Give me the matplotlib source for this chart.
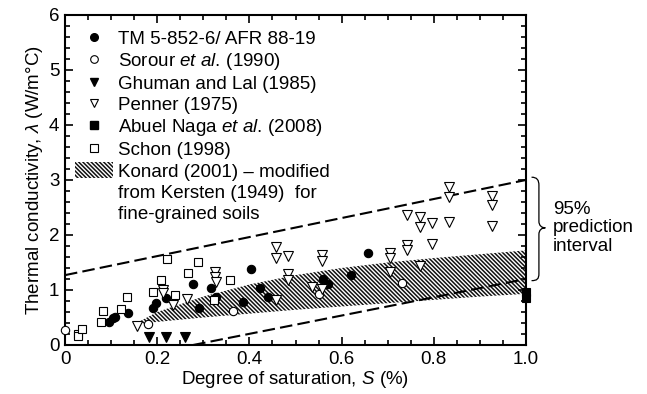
import matplotlib
matplotlib.use('Agg')
import matplotlib.pyplot as plt
from matplotlib.patches import Patch, PathPatch
from matplotlib.path import Path
from matplotlib.lines import Line2D
from matplotlib.ticker import MultipleLocator

plt.rcParams['font.family'] = ['Liberation Sans', 'DejaVu Sans']
plt.rcParams['mathtext.fontset'] = 'custom'
plt.rcParams['mathtext.rm'] = 'Liberation Sans'
plt.rcParams['mathtext.it'] = 'Liberation Sans:italic'
plt.rcParams['hatch.linewidth'] = 1.1
plt.rcParams['hatch.color'] = '#111111'

FS = 13.5

# TM 5-852-6 / AFR 88-19 (filled circles)
tm_s = [0.096, 0.105, 0.108, 0.137, 0.19, 0.197, 0.219, 0.278, 0.291, 0.317, 0.328,
        0.387, 0.403, 0.423, 0.441, 0.56, 0.571, 0.62, 0.657]
tm_k = [0.41, 0.49, 0.51, 0.59, 0.68, 0.76, 0.85, 1.11, 0.68, 1.03, 0.87,
        0.78, 1.38, 1.03, 0.87, 1.2, 1.11, 1.27, 1.67]

# Sorour et al. (1990) (open circles)
sor_s = [0.0, 0.179, 0.364, 0.55, 0.73]
sor_k = [0.27, 0.38, 0.62, 0.93, 1.13]

# Ghuman and Lal (1985) (filled triangles)
gh_s = [0.183, 0.218, 0.26]
gh_k = [0.15, 0.15, 0.15]

# Penner (1975) (open triangles)
pen_s = [0.157, 0.212, 0.212, 0.234, 0.265, 0.325, 0.325, 0.328, 0.458, 0.458,
         0.484, 0.484, 0.484, 0.458, 0.536, 0.558, 0.558, 0.558,
         0.704, 0.704, 0.704, 0.741, 0.741, 0.741, 0.77, 0.77, 0.77,
         0.797, 0.797, 0.833, 0.833, 0.833, 0.926, 0.926, 0.926]
pen_k = [0.35, 1.0, 0.94, 0.72, 0.84, 1.33, 1.23, 1.14, 1.79, 1.59,
         1.62, 1.29, 1.18, 0.82, 1.06, 1.64, 1.52, 1.01,
         1.68, 1.59, 1.32, 2.37, 1.82, 1.73, 2.32, 2.15, 1.44,
         2.21, 1.84, 2.87, 2.69, 2.23, 2.71, 2.54, 2.17]

# Abuel Naga et al. (2008) (filled squares)
ab_s = [1.0, 1.0]
ab_k = [0.86, 0.97]

# Schon (1998) (open squares)
sch_s = [0.029, 0.029, 0.036, 0.077, 0.082, 0.121, 0.134, 0.19, 0.208, 0.222,
         0.239, 0.267, 0.288, 0.323, 0.358]
sch_k = [0.2, 0.16, 0.29, 0.41, 0.61, 0.65, 0.88, 0.96, 1.19, 1.56,
         0.9, 1.31, 1.5, 0.82, 1.18]

# Konard (2001) band
band_s = [0.16, 0.2, 0.3, 0.4, 0.5, 0.6, 0.7, 0.8, 0.9, 1.0]
band_hi = [0.42, 0.6, 0.88, 1.1, 1.27, 1.4, 1.5, 1.58, 1.65, 1.72]
band_lo = [0.38, 0.42, 0.5, 0.57, 0.64, 0.7, 0.76, 0.82, 0.88, 0.93]

# 95% prediction interval lines
up_s = [0.0, 1.0]
up_k = [1.27, 3.0]
lo_s = [0.278, 1.0]
lo_k = [0.0, 1.2]

xtick_vals = [0, 0.2, 0.4, 0.6, 0.8, 1.0]
xtick_labels = ['0', '0.2', '0.4', '0.6', '0.8', '1.0']

fig = plt.figure(figsize=(6.47, 3.94), dpi=100)
ax = fig.add_axes([0.1005, 0.1244, 0.7125, 0.8376])

hatch = '\\' * 8
ax.fill_between(band_s, band_lo, band_hi, facecolor='white', edgecolor='#111111',
                hatch=hatch, linewidth=0, zorder=1)

dash = (0, (6, 2.5))
ax.plot(up_s, up_k, color='black', lw=1.5, linestyle=dash, zorder=2)
ax.plot(lo_s, lo_k, color='black', lw=1.5, linestyle=dash, zorder=2)

ms = 6
mew = 0.8
ax.plot(tm_s, tm_k, 'o', ms=ms, mfc='black', mec='black', mew=mew, zorder=3, clip_on=False)
ax.plot(sor_s, sor_k, 'o', ms=ms, mfc='white', mec='black', mew=mew, zorder=3, clip_on=False)
ax.plot(gh_s, gh_k, 'v', ms=ms + 0.5, mfc='black', mec='black', mew=mew, zorder=3, clip_on=False)
ax.plot(pen_s, pen_k, 'v', ms=ms + 0.5, mfc='white', mec='black', mew=mew, zorder=3, clip_on=False)
ax.plot(ab_s, ab_k, 's', ms=ms, mfc='black', mec='black', mew=mew, zorder=3, clip_on=False)
ax.plot(sch_s, sch_k, 's', ms=ms - 0.5, mfc='white', mec='black', mew=mew, zorder=3, clip_on=False)

ax.set_xlim(0, 1.0)
ax.set_ylim(0, 6)
ax.set_xticks(xtick_vals)
ax.set_xticklabels(xtick_labels)
ax.xaxis.set_minor_locator(MultipleLocator(0.05))
ax.yaxis.set_major_locator(MultipleLocator(1))
ax.yaxis.set_minor_locator(MultipleLocator(0.2))
ax.tick_params(which='both', direction='in', top=True, right=True, width=1.2, labelsize=FS)
ax.tick_params(which='major', length=6, pad=4)
ax.tick_params(which='minor', length=3.5)
for sp in ax.spines.values():
    sp.set_linewidth(1.5)

ax.set_xlabel('Degree of saturation, $S$ (%)', fontsize=FS, labelpad=1)
ax.set_ylabel(r'Thermal conductivity, $\lambda$ (W/m°C)', fontsize=FS, labelpad=3)

lms = 5.5
blank = Line2D([], [], ls='none')
handles = [
    Line2D([], [], marker='o', ls='none', ms=lms, mfc='black', mec='black'),
    Line2D([], [], marker='o', ls='none', ms=lms, mfc='white', mec='black', mew=0.8),
    Line2D([], [], marker='v', ls='none', ms=lms, mfc='black', mec='black'),
    Line2D([], [], marker='v', ls='none', ms=lms, mfc='white', mec='black', mew=0.8),
    Line2D([], [], marker='s', ls='none', ms=lms, mfc='black', mec='black'),
    Line2D([], [], marker='s', ls='none', ms=lms, mfc='white', mec='black', mew=0.8),
    Patch(facecolor='white', edgecolor='#111111', hatch=hatch, linewidth=0),
    blank,
    blank,
]
labels = [
    'TM 5-852-6/ AFR 88-19',
    r'Sorour $et\ al.\,$(1990)',
    'Ghuman and Lal (1985)',
    'Penner (1975)',
    r'Abuel Naga $et\ al.\,$(2008)',
    'Schon (1998)',
    'Konard (2001) – modified',
    'from Kersten (1949)  for',
    'fine-grained soils',
]
ax.legend(handles, labels, loc='upper left', bbox_to_anchor=(0.022, 0.955),
          frameon=False, fontsize=FS, borderaxespad=0, borderpad=0,
          handlelength=2.0, handletextpad=0.3, labelspacing=0.155,
          handleheight=0.9)

# brace for the prediction interval
verts = [(1.012, 3.05), (1.024, 3.05), (1.028, 3.0), (1.028, 2.9),
         (1.028, 2.25),
         (1.028, 2.17), (1.034, 2.13), (1.042, 2.13),
         (1.034, 2.13), (1.028, 2.09), (1.028, 2.01),
         (1.028, 1.3),
         (1.028, 1.2), (1.024, 1.17), (1.012, 1.17)]
codes = [Path.MOVETO, Path.CURVE4, Path.CURVE4, Path.CURVE4,
         Path.LINETO,
         Path.CURVE4, Path.CURVE4, Path.CURVE4,
         Path.CURVE4, Path.CURVE4, Path.CURVE4,
         Path.LINETO,
         Path.CURVE4, Path.CURVE4, Path.CURVE4]
ax.add_patch(PathPatch(Path(verts, codes), facecolor='none', edgecolor='black',
                       lw=0.9, clip_on=False))
ax.text(1.058, 2.13, '95%\nprediction\ninterval', fontsize=FS, ha='left', va='center',
        linespacing=1.1)

fig.savefig('out.png', dpi=100)
